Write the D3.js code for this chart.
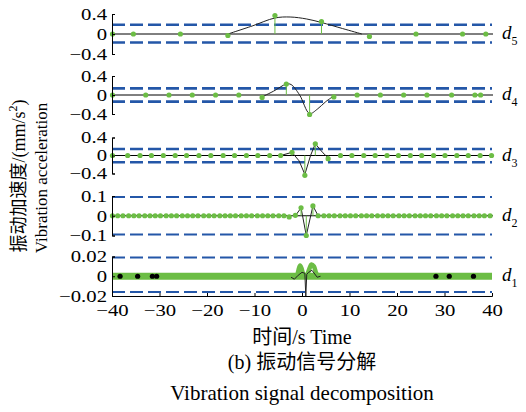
<!DOCTYPE html>
<html>
<head>
<meta charset="utf-8">
<script src="https://cdn.jsdelivr.net/npm/d3@7"></script>
<style>
  body { margin: 0; background: #fff; }
  text { font-family: "Liberation Serif", "Times New Roman", "Noto Sans CJK SC", serif; fill: #000; }
</style>
</head>
<body>
<div id="chart"></div>
<script>
// x axis
const xTicks = [-40, -30, -20, -10, 0, 10, 20, 30, 40];

// d5
const d5Ticks = [-0.4, 0, 0.4];
const d5Limits = [0.185, -0.17];
const d5Dots = [[-39.9, 0], [-35.5, 0], [-25.6, 0], [-15.6, -0.03], [-5.7, 0.37], [4.1, 0.25], [14.2, -0.05], [24.0, 0], [33.8, 0], [38.7, 0]];
const d5Curve = [[-15.6, 0], [-10.5, 0.16], [-5.7, 0.32], [-2.5, 0.34], [1.0, 0.3], [4.1, 0.23], [8.5, 0.11], [12.6, 0]];

// d4
const d4Ticks = [-0.4, 0, 0.4];
const d4Limits = [0.14, -0.14];
const d4Dots = [[-39.9, 0], [-32.9, 0], [-28.0, 0], [-23.1, 0], [-18.2, 0], [-13.3, 0], [-8.4, -0.05], [-3.3, 0.23],
  [1.6, -0.41], [6.7, -0.04], [11.6, 0], [16.5, 0], [21.4, 0], [26.3, 0], [31.5, 0], [36.4, 0], [37.6, 0]];
const d4Curve = [[-8.4, -0.04], [-6.0, 0.08], [-3.3, 0.23], [-2.3, 0.22], [-0.5, 0.0], [1.6, -0.39], [3.2, -0.3], [5.0, -0.14], [6.7, -0.02]];

// d3
const d3Ticks = [-0.4, 0, 0.4];
const d3Limits = [0.144, -0.151];
const d3Dots = [[-39.9, 0], [-36.7, 0], [-34.1, 0], [-31.7, 0], [-29.2, 0], [-26.7, 0], [-24.3, 0], [-21.7, 0], [-19.2, 0],
  [-16.6, 0], [-14.2, 0], [-11.7, 0], [-9.3, 0], [-6.8, 0], [-4.5, 0], [-2.1, 0.07], [0.6, -0.44], [2.8, 0.26], [5.5, -0.07],
  [8.1, 0], [10.5, 0], [13.0, 0], [15.4, 0], [17.9, 0], [20.3, 0], [22.8, 0], [25.2, 0], [27.7, 0], [30.1, 0], [32.6, 0],
  [35.0, 0], [37.5, 0], [39.9, 0]];
const d3Curve = [[-4.5, 0], [-2.1, 0.07], [-0.6, -0.12], [0.6, -0.42], [1.8, 0.0], [2.8, 0.26], [4.4, 0.06], [5.5, -0.05]];

// d2
const d2Ticks = [-0.1, 0, 0.1];
const d2Limits = [0.095, -0.095];
const d2Dots = [[-39.9, 0], [-38.8, 0], [-37.7, 0], [-36.5, 0], [-35.4, 0], [-34.3, 0], [-33.1, 0], [-32.0, 0], [-30.9, 0],
  [-29.8, 0], [-28.6, 0], [-27.5, 0], [-26.4, 0], [-25.2, 0], [-24.1, 0], [-23.0, 0], [-21.9, 0], [-20.7, 0], [-19.6, 0],
  [-18.5, 0], [-17.3, 0], [-16.2, 0], [-15.1, 0], [-14.0, 0], [-12.8, 0], [-11.7, 0], [-10.6, 0], [-9.4, 0], [-8.3, 0],
  [-7.2, 0], [-6.1, 0], [-4.9, 0], [-3.8, 0], [-2.7, -0.006], [-1.4, 0.002], [-0.2, 0.04], [0.9, -0.1], [2.3, 0.05],
  [3.4, 0], [4.6, 0], [5.7, 0], [6.8, 0], [8.0, 0], [9.1, 0], [10.2, 0], [11.3, 0], [12.5, 0], [13.6, 0], [14.7, 0],
  [15.9, 0], [17.0, 0], [18.1, 0], [19.2, 0], [20.4, 0], [21.5, 0], [22.6, 0], [23.8, 0], [24.9, 0], [26.0, 0], [27.1, 0],
  [28.3, 0], [29.4, 0], [30.5, 0], [31.7, 0], [32.8, 0], [33.9, 0], [35.0, 0], [36.2, 0], [37.3, 0], [38.4, 0], [39.6, 0]];
const d2Curve = [[-1.4, 0], [-0.2, 0.04], [0.9, -0.1], [2.3, 0.05], [3.4, 0]];

// d1
const d1Ticks = [-0.02, 0, 0.02];
const d1Limits = [0.019, -0.016];
const d1Band = [[-40, 0], [40, 0]];
const d1Wave = [[-1.0, 0], [-0.7, 0.007], [-0.4, 0.011], [-0.1, 0.008], [0.3, 0.002], [0.9, 0], [1.5, 0.007], [2.0, 0.012],
  [2.5, 0.01], [3.0, 0.003], [3.4, 0]];
const d1Dots = [[-38.3, 0], [-34.6, 0], [-31.5, 0], [-30.6, 0], [28.2, 0], [31.0, 0], [36.1, 0]];
const d1Curve = [[-2.3, -0.001], [-1.6, -0.003], [-0.8, 0.001], [0.0, 0.004], [0.6, 0.003], [0.8, -0.02], [1.0, 0.002],
  [1.4, 0.004], [2.1, 0.006], [3.2, -0.001], [3.9, 0]];

const green = '#6cbd45';
const blue = '#2457a8';
const stretch = 1.22; // tick labels in the picture are drawn wide

const svg = d3.select('#chart').append('svg')
  .attr('width', 526)
  .attr('height', 412);

const x = d3.scaleLinear().domain([-40, 40]).range([112, 492]);

const fmt = v => v < 0 ? '\u2212' + Math.abs(v) : String(v);

// panel layout, top to bottom
const panels = [
  { sub: '5', ticks: d5Ticks, limits: d5Limits, dots: d5Dots, curve: d5Curve, top: 14, bot: 54, dashW: 2.6, smooth: true },
  { sub: '4', ticks: d4Ticks, limits: d4Limits, dots: d4Dots, curve: d4Curve, top: 76, bot: 114, dashW: 2.6, smooth: true },
  { sub: '3', ticks: d3Ticks, limits: d3Limits, dots: d3Dots, curve: d3Curve, top: 137.5, bot: 173.5, dashW: 2.6, smooth: false },
  { sub: '2', ticks: d2Ticks, limits: d2Limits, dots: d2Dots, curve: d2Curve, top: 196, bot: 235.5, dashW: 2, smooth: false },
  { sub: '1', ticks: d1Ticks, limits: d1Limits, dots: d1Dots, curve: d1Curve, top: 256.5, bot: 296, dashW: 2, smooth: false, last: true }
];

panels.forEach(p => {
  const y = d3.scaleLinear().domain([p.ticks[0], p.ticks[2]]).range([p.bot, p.top]);
  const g = svg.append('g');

  // threshold lines
  g.selectAll('.lim')
    .data(p.limits)
    .enter().append('line')
    .attr('x1', x(-40)).attr('x2', x(40))
    .attr('y1', d => y(d)).attr('y2', d => y(d))
    .attr('stroke', blue)
    .attr('stroke-width', p.dashW)
    .attr('stroke-dasharray', '13 5');

  const line = d3.line()
    .x(d => x(d[0]))
    .y(d => y(d[1]));

  if (p.last) {
    // dense samples of d1 form a thick band
    g.append('path').datum(d1Band)
      .attr('d', line)
      .attr('stroke', green).attr('stroke-width', 7).attr('fill', 'none');
    g.append('path').datum(d1Wave)
      .attr('d', line.curve(d3.curveCatmullRom))
      .attr('stroke', green).attr('stroke-width', 4.5).attr('fill', 'none')
      .attr('stroke-linecap', 'round');
    line.curve(d3.curveLinear);
  } else {
    // zero line
    g.append('line')
      .attr('x1', x(-40)).attr('x2', x(40) + 1)
      .attr('y1', y(0)).attr('y2', y(0))
      .attr('stroke', '#000').attr('stroke-width', 1);
  }

  // reconstructed signal
  g.append('path').datum(p.curve)
    .attr('d', p.smooth ? line.curve(d3.curveCatmullRom) : line.curve(d3.curveLinear))
    .attr('stroke', '#222').attr('stroke-width', 1).attr('fill', 'none');

  // stems
  g.selectAll('.stem')
    .data(p.dots)
    .enter().append('line')
    .attr('x1', d => x(d[0])).attr('x2', d => x(d[0]))
    .attr('y1', y(0)).attr('y2', d => y(d[1]))
    .attr('stroke', green).attr('stroke-width', 1);

  g.selectAll('.dot')
    .data(p.dots)
    .enter().append('circle')
    .attr('cx', d => x(d[0]))
    .attr('cy', d => y(d[1]))
    .attr('r', 2.6)
    .attr('fill', p.last ? '#000' : green);

  // left axis as a bracket
  const ya = g.append('g')
    .attr('transform', `translate(${x(-40)},0)`)
    .call(d3.axisLeft(y).tickValues(p.ticks).tickSize(-3).tickPadding(5).tickFormat(fmt));
  ya.attr('font-family', null).attr('font-size', null);
  ya.selectAll('text')
    .style('font-size', '17px')
    .attr('x', -5 / stretch)
    .attr('transform', `scale(${stretch},1)`);

  // subscript label
  const lab = g.append('text')
    .attr('x', 502)
    .attr('y', y(0) + 5)
    .style('font-size', '19px');
  lab.append('tspan').style('font-style', 'italic').text('d');
  lab.append('tspan').attr('dy', 6).style('font-size', '12px').text(p.sub);

  if (p.last) {
    const xa = g.append('g')
      .attr('transform', `translate(0,${p.bot})`)
      .call(d3.axisBottom(x).tickValues(xTicks).tickSize(-3).tickPadding(8).tickFormat(fmt));
    xa.attr('font-family', null).attr('font-size', null);
    xa.selectAll('text')
      .style('font-size', '17px')
      .attr('transform', `scale(${stretch},1)`);
  }
});

// y axis titles
svg.append('text')
  .attr('transform', 'translate(19,176) rotate(-90)')
  .attr('text-anchor', 'middle')
  .attr('dominant-baseline', 'central')
  .style('font-size', '18px')
  .call(t => {
    t.append('tspan').text('振动加速度/(mm/s');
    t.append('tspan').attr('dy', -6).style('font-size', '12px').text('2');
    t.append('tspan').attr('dy', 6).text(')');
  });

svg.append('text')
  .attr('transform', 'translate(41,178) rotate(-90)')
  .attr('text-anchor', 'middle')
  .attr('dominant-baseline', 'central')
  .style('font-size', '17px')
  .text('Vibration acceleration');

// bottom titles
svg.append('text')
  .attr('x', 302).attr('y', 344)
  .attr('text-anchor', 'middle')
  .style('font-size', '20px')
  .text('时间/s Time');

svg.append('text')
  .attr('x', 302).attr('y', 369)
  .attr('text-anchor', 'middle')
  .style('font-size', '20px')
  .text('(b) 振动信号分解');

svg.append('text')
  .attr('x', 302).attr('y', 400)
  .attr('text-anchor', 'middle')
  .style('font-size', '21px')
  .text('Vibration signal decomposition');
</script>
</body>
</html>
